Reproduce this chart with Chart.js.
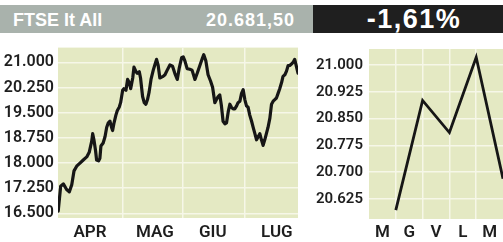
<!DOCTYPE html>
<html>
<head>
<meta charset="utf-8">
<script src="https://cdn.jsdelivr.net/npm/chart.js@4.4.0/dist/chart.umd.min.js"></script>
<style>
  html,body{margin:0;padding:0;background:#fff;}
  body{width:503px;height:242px;position:relative;overflow:hidden;font-family:"Liberation Sans",Arial,sans-serif;}
  #grey{position:absolute;left:0;top:5px;width:313px;height:28px;background:#a9b2ac;}
  #dark{position:absolute;left:313px;top:5px;width:190px;height:28px;background:#1f1f1f;}
  #name{position:absolute;left:13px;top:4px;color:#fff;font-weight:bold;font-size:18px;line-height:22px;}
  #last{position:absolute;right:18px;top:4px;color:#fff;font-weight:bold;font-size:18px;line-height:22px;letter-spacing:1px;}
  #chg{position:absolute;left:6px;width:190px;top:0px;text-align:center;color:#fff;font-weight:bold;font-size:27px;line-height:28px;letter-spacing:1.5px;}
  #wl{position:absolute;left:0;top:34px;width:305px;height:208px;}
  #wr{position:absolute;left:305px;top:34px;width:198px;height:208px;}
</style>
</head>
<body>
<div id="grey"><span id="name">FTSE It All</span><span id="last">20.681,50</span></div>
<div id="dark"><div id="chg">-1,61%</div></div>
<div id="wl"><canvas id="cl" width="305" height="208"></canvas></div>
<div id="wr"><canvas id="cr" width="198" height="208"></canvas></div>
<script>
// ---- data ----
const monthLabels = ['APR', 'MAG', 'GIU', 'LUG'];
const monthCenters = [15.6, 47.2, 75.4, 106.6];
const monthStarts = [31.6, 60.8, 91];
const days = [0.1,1.3,2.6,4.2,5.5,6.7,7.8,9.1,10.7,12.3,14.0,15.2,16.4,16.9,17.5,18.3,18.8,19.8,20.4,20.9,22.0,22.9,23.7,24.5,25.3,26.1,26.6,27.3,28.2,28.9,29.8,30.5,31.5,32.1,33.1,33.9,34.7,35.4,36.4,37.0,38.0,38.6,39.6,40.2,41.2,42.0,42.8,43.6,44.4,45.3,46.4,47.3,48.0,48.8,49.6,
  51.2,52.1,53.2,54.5,55.8,56.9,58.1,59.0,60.2,61.0,61.8,62.9,64.2,65.3,66.7,67.8,69.1,70.4,71.0,72.0,73.1,74.3,75.3,76.4,77.2,78.0,78.8,79.6,80.4,81.3,82.1,82.9,83.7,84.5,85.3,86.1,87.0,87.7,88.6,89.4,90.2,91.0,91.8,92.6,93.4,94.3,95.0,95.9,96.7,97.5,98.3,99.1,99.9,100.7,101.5,102.3,103.2,104.0,104.8,105.6,106.4,107.2,108.0,108.9,109.6,110.5,111.3,112.1,112.9,113.7,114.5,115.3,116.2,116.9];
const ftse = [16568,17308,17380,17213,17141,17352,17767,17906,18000,18091,18183,18321,18645,18875,18693,18368,18091,18064,18139,18507,18598,18784,19061,19200,19247,19061,18970,19200,19429,19568,19662,19801,20169,20216,20169,20493,20399,20216,20537,20861,20723,20676,20723,20537,19983,19801,19753,19892,20122,20493,20770,20953,21091,20909,20537,
  20584,20632,20770,20925,20889,20676,20493,20814,21139,21166,21047,20814,20798,20770,20493,20676,20909,21139,21230,21047,20632,20446,20260,19801,19892,19983,20030,19706,19247,19172,19200,19524,19754,19662,19615,19615,19706,19801,19845,20078,20188,19892,19706,19662,19430,19247,19080,18875,18693,18784,18875,18693,18526,18693,18875,19061,19338,19754,19845,19892,19939,20078,20216,20399,20584,20632,20742,20909,20909,20953,21000,21091,20862,20681.5];
const leftTicks = [16500, 17250, 18000, 18750, 19500, 20250, 21000];
const leftMin = 16362, leftMax = 21442, leftDayMax = 116.9;

const weekLabels = ['M', 'G', 'V', 'L', 'M'];
const weekPos = [0, 1, 2, 3, 4];
const weekValues = [20594, 20901, 20811, 21022, 20681.5];
const rightTicks = [20625, 20700, 20775, 20850, 20925, 21000];
const rightMin = 20569, rightMax = 21045;

// ---- styling ----
const BG = '#e4e9c3';
const GRID = '#f6f7e8';
const TXT = '#1e1e1e';
const FONT = { family: 'Roboto', weight: '600', size: 16 };
const fmt = v => { const s = String(Math.round(v)); return s.slice(0, s.length - 3) + '.' + s.slice(-3); };

const bgPlugin = {
  id: 'bg',
  beforeDraw(chart) {
    const a = chart.chartArea, c = chart.ctx;
    c.save(); c.fillStyle = BG; c.fillRect(a.left, a.top, a.right - a.left, a.bottom - a.top); c.restore();
  }
};

// ---- left chart ----
new Chart(document.getElementById('cl'), {
  type: 'line',
  data: { datasets: [{ data: days.map((d, i) => ({ x: d, y: ftse[i] })), borderColor: '#161616', borderWidth: 3.2, pointRadius: 0, tension: 0, borderJoinStyle: 'round', borderCapStyle: 'round' }] },
  options: {
    responsive: false, animation: false, events: [],
    layout: { padding: { left: 0, right: 7, top: 0, bottom: 0 } },
    plugins: { legend: { display: false }, tooltip: { enabled: false } },
    scales: {
      x: {
        type: 'linear', min: 0, max: leftDayMax,
        afterBuildTicks: s => { s.ticks = [...monthStarts, ...monthCenters].sort((a, b) => a - b).map(v => ({ value: v })); },
        afterFit: s => { s.height = 24; },
        border: { display: false },
        grid: { drawTicks: false, lineWidth: 1.5, color: c => (c.tick && monthStarts.includes(c.tick.value)) ? GRID : 'rgba(0,0,0,0)' },
        ticks: { autoSkip: false, maxRotation: 0, padding: 5, color: TXT, font: { family: 'Roboto', weight: '600', size: 17 },
          callback: v => { const i = monthCenters.indexOf(v); return i >= 0 ? monthLabels[i] : ''; } }
      },
      y: {
        min: leftMin, max: leftMax,
        afterBuildTicks: s => { s.ticks = leftTicks.map(v => ({ value: v })); },
        afterFit: s => { s.width = 58; },
        border: { display: false },
        grid: { drawTicks: false, lineWidth: 1.5, color: GRID },
        ticks: { padding: 4, color: TXT, font: FONT, callback: v => fmt(v) }
      }
    }
  },
  plugins: [bgPlugin]
});

// ---- right chart ----
const weekTickPos = [-0.5, 0.5, 1.5, 2.5, 3.5];
const weekGrid = [0, 1, 2, 3];
new Chart(document.getElementById('cr'), {
  type: 'line',
  data: { datasets: [{ data: weekPos.map((p, i) => ({ x: p, y: weekValues[i] })), borderColor: '#161616', borderWidth: 2.8, pointRadius: 0, tension: 0 }] },
  options: {
    responsive: false, animation: false, events: [],
    layout: { padding: 0 },
    plugins: { legend: { display: false }, tooltip: { enabled: false } },
    scales: {
      x: {
        type: 'linear', min: -1, max: 4,
        afterBuildTicks: s => { s.ticks = [...weekTickPos, ...weekGrid].sort((a, b) => a - b).map(v => ({ value: v })); },
        afterFit: s => { s.height = 23; },
        border: { display: false },
        grid: { drawTicks: false, lineWidth: 1.5, color: c => (c.tick && weekGrid.includes(c.tick.value)) ? GRID : 'rgba(0,0,0,0)' },
        ticks: { autoSkip: false, maxRotation: 0, padding: 4, color: TXT, font: { family: 'Roboto', weight: '600', size: 17 },
          callback: v => { const i = weekTickPos.indexOf(v); return i >= 0 ? weekLabels[i] : ''; } }
      },
      y: {
        min: rightMin, max: rightMax,
        afterBuildTicks: s => { s.ticks = rightTicks.map(v => ({ value: v })); },
        afterFit: s => { s.width = 64; },
        border: { display: false },
        grid: { drawTicks: false, lineWidth: 1.5, color: GRID },
        ticks: { padding: 6, color: TXT, font: { family: 'Roboto', weight: '600', size: 15 }, callback: v => fmt(v) }
      }
    }
  },
  plugins: [bgPlugin]
});
</script>
</body>
</html>
